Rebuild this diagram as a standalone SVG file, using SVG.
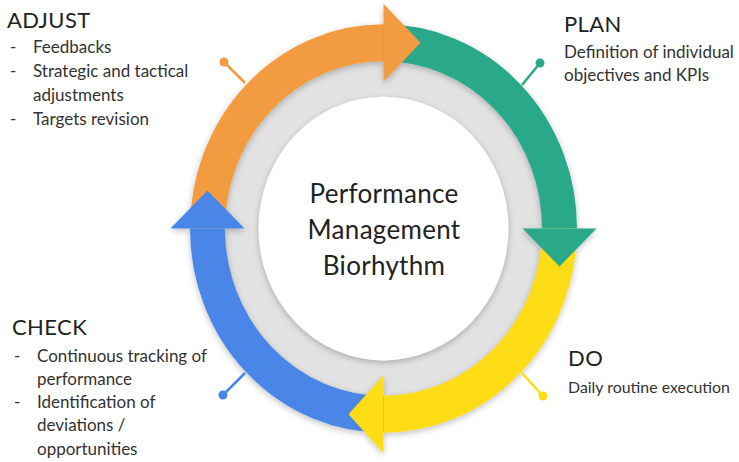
<svg xmlns="http://www.w3.org/2000/svg" width="739" height="462" viewBox="0 0 739 462">
  <defs>
    <filter id="soft" x="-20%" y="-20%" width="140%" height="140%">
      <feDropShadow dx="0" dy="2" stdDeviation="3" flood-color="#000" flood-opacity="0.25"/>
    </filter>
  </defs>
  <style>
    .t { font-family: Lato, "Open Sans", "Liberation Sans", sans-serif; fill: #222; }
    .h { font-size: 22px; letter-spacing: 0.4px; }
    .b { font-size: 17px; fill: #333; }
    .c { font-size: 26px; letter-spacing: 0.3px; text-anchor: middle; }
    .band { fill: none; stroke-width: 35; }
    .lead { stroke-width: 2.5; }
  </style>
  <rect width="739" height="462" fill="#fff"/>

  <!-- ring: gray base, white core, four coloured arcs with heads -->
  <g id="ring" transform="translate(383.5,228.5) scale(1,1.055)">
    <circle r="165" fill="#e2e2e2"/>
    <circle r="125" fill="#fff" filter="url(#soft)"/>
    <g filter="url(#soft)">
      <path id="adjust-arc" class="band" stroke="#f29b40" d="M -176 0 A 176 176 0 0 1 0 -176"/>
      <path id="plan-arc" class="band" stroke="#2ba88a" d="M 0 -176 A 176 176 0 0 1 176 0"/>
      <path id="do-arc" class="band" stroke="#fedc14" d="M 176 0 A 176 176 0 0 1 0 176"/>
      <path id="check-arc" class="band" stroke="#4a86e8" d="M 0 176 A 176 176 0 0 1 -176 0"/>
      <polygon fill="#f29b40" points="0,-213 37,-176 0,-139"/>
      <polygon fill="#2ba88a" points="213,0 176,36 139,0"/>
      <polygon fill="#fedc14" points="0,213 -35,176 0,139"/>
      <polygon fill="#4a86e8" points="-213,0 -176,-36 -139,0"/>
    </g>
  </g>

  <!-- leader lines with end dots -->
  <g id="connectors">
    <line class="lead" stroke="#f29b40" x1="245" y1="83" x2="224" y2="62"/>
    <circle cx="224" cy="62" r="4.5" fill="#f29b40"/>
    <line class="lead" stroke="#2ba88a" x1="522" y1="85" x2="540" y2="63"/>
    <circle cx="540" cy="63" r="4.5" fill="#2ba88a"/>
    <line class="lead" stroke="#fedc14" x1="522" y1="373" x2="543" y2="396"/>
    <circle cx="543" cy="396" r="4.5" fill="#fedc14"/>
    <line class="lead" stroke="#4a86e8" x1="245" y1="373" x2="223" y2="395"/>
    <circle cx="223" cy="395" r="4.5" fill="#4a86e8"/>
  </g>

  <g id="center">
    <text class="t c" x="384" y="203">Performance</text>
    <text class="t c" x="384" y="239">Management</text>
    <text class="t c" x="384" y="275">Biorhythm</text>
  </g>

  <g id="adjust">
    <text class="t h" x="7" y="28">ADJUST</text>
    <text class="t b" x="10" y="53">-</text>
    <text class="t b" x="33" y="53">Feedbacks</text>
    <text class="t b" x="10" y="77">-</text>
    <text class="t b" x="33" y="77">Strategic and tactical</text>
    <text class="t b" x="33" y="101">adjustments</text>
    <text class="t b" x="10" y="125">-</text>
    <text class="t b" x="33" y="125">Targets revision</text>
  </g>

  <g id="plan">
    <text class="t h" x="564" y="32">PLAN</text>
    <text class="t b" x="564" y="58">Definition of individual</text>
    <text class="t b" x="564" y="81">objectives and KPIs</text>
  </g>

  <g id="do">
    <text class="t h" x="568" y="366">DO</text>
    <text class="t b" x="568" y="393" style="font-size:16px" textLength="162" lengthAdjust="spacingAndGlyphs">Daily routine execution</text>
  </g>

  <g id="check">
    <text class="t h" x="12" y="335">CHECK</text>
    <text class="t b" x="14" y="362">-</text>
    <text class="t b" x="37" y="362">Continuous tracking of</text>
    <text class="t b" x="37" y="385">performance</text>
    <text class="t b" x="14" y="408">-</text>
    <text class="t b" x="37" y="408">Identification of</text>
    <text class="t b" x="37" y="431">deviations /</text>
    <text class="t b" x="37" y="455">opportunities</text>
  </g>
</svg>
